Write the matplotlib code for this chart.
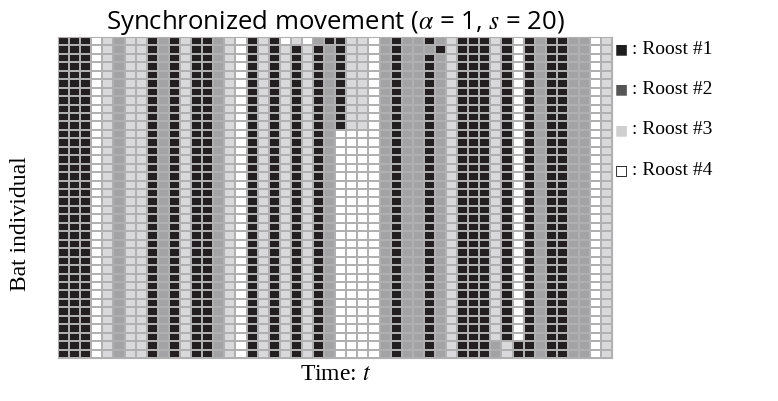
"""Synchronized roost movement grid (bat x time)."""
import numpy as np
import matplotlib
matplotlib.use("Agg")
import matplotlib.pyplot as plt
from matplotlib.colors import ListedColormap, BoundaryNorm

plt.rcParams["mathtext.fontset"] = "stix"

# roost of the whole colony at each time step (1..4)
roost_seq = [1, 1, 1, 4, 3, 2, 3, 3, 1, 2, 1, 3, 1, 1, 2, 3, 4, 1, 3, 1,
             3, 1, 3, 1, 2, 1, 3, 3, 4, 2, 1, 2, 2, 1, 2, 3, 1, 1, 1, 3,
             1, 4, 1, 2, 1, 1, 2, 2, 4, 3]
n_bats = 38

# lower group of bats (rows 11..) that split off to roost 4
split_rows = list(range(11, n_bats))
split_cols = [25, 26, 27]
split_roost = [4, 4, 4]

# single bats that deviate: (bat, time, roost)
dev_bat = [0, 0, 0, 0, 0, 1, 1, 36, 36, 36, 37, 37, 37]
dev_time = [20, 21, 22, 23, 24, 33, 34, 39, 40, 41, 39, 40, 41]
dev_roost = [4, 3, 4, 2, 1, 2, 1, 2, 3, 1, 2, 3, 1]

roost_colors = ["#231f20", "#a3a3a6", "#d9d9db", "#ffffff"]
legend_colors = ["#1e1e1e", "#555555", "#cfcfcf", "#ffffff"]
legend_labels = [": Roost #1", ": Roost #2", ": Roost #3", ": Roost #4"]

grid = np.tile(np.array(roost_seq), (n_bats, 1))
for r in split_rows:
    for c, v in zip(split_cols, split_roost):
        grid[r, c] = v
for b, t, v in zip(dev_bat, dev_time, dev_roost):
    grid[b, t] = v

fig = plt.figure(figsize=(7.78, 4.01), dpi=100)
ax = fig.add_axes([0.0746, 0.107, 0.7125, 0.801])
cmap = ListedColormap(roost_colors)
norm = BoundaryNorm([0.5, 1.5, 2.5, 3.5, 4.5], cmap.N)
ax.pcolormesh(grid, cmap=cmap, norm=norm, edgecolors="#b0b0b0", linewidth=1.1)
ax.set_xlim(0, len(roost_seq))
ax.set_ylim(n_bats, 0)
ax.set_xticks([])
ax.set_yticks([])
for s in ax.spines.values():
    s.set_color("#b0b0b0")

ax.set_title("Synchronized movement ($\\alpha$ = 1, $s$ = 20)",
             fontsize=18.5, family="Open Sans", pad=1)
ax.set_xlabel("Time: $t$", fontsize=17, family="Liberation Serif", labelpad=4)
ax.set_ylabel("Bat individual", fontsize=17, family="Liberation Serif")
ax.yaxis.set_label_coords(-0.049, 0.42)

for i, (col, lab) in enumerate(zip(legend_colors, legend_labels)):
    y = 1 - (49 + 40.5 * i) / 401
    glyph = "■" if i < 3 else "□"
    fig.text(621 / 778, y, glyph, color=col if i < 3 else "black",
             fontsize=10, ha="center", va="center", family="DejaVu Sans")
    fig.text(632 / 778, y, lab, fontsize=14, ha="left", va="center",
             family="Liberation Serif")

fig.savefig("out.png", dpi=100)
